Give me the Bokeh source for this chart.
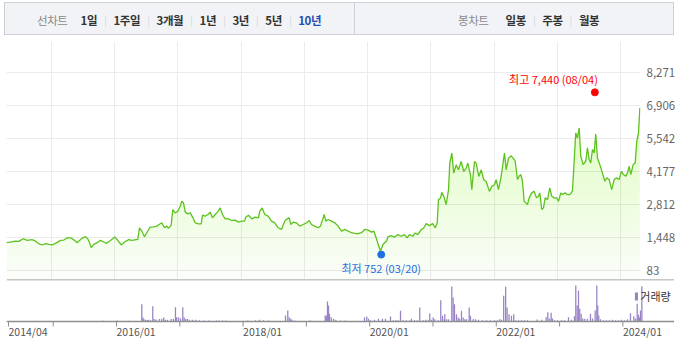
import numpy as np
from bokeh.plotting import figure
from bokeh.models import (Range1d, FixedTicker, Span, Div, Legend, LegendItem, NumeralTickFormatter)
from bokeh.layouts import column
from bokeh.embed import file_html
from bokeh.resources import INLINE
from bokeh.core.properties import value

# ---------------- data (dates are decimal years) ----------------
dates = [
    2014.294, 2014.357, 2014.436, 2014.488, 2014.558, 2014.621, 2014.700, 2014.752, 2014.804, 2014.858,
    2014.910, 2014.962, 2015.016, 2015.068, 2015.147, 2015.199, 2015.253, 2015.316, 2015.368, 2015.411,
    2015.452, 2015.490, 2015.542, 2015.578, 2015.610, 2015.632, 2015.673, 2015.727, 2015.779, 2015.831,
    2015.874, 2015.926, 2016.005, 2016.052, 2016.106, 2016.158, 2016.226,
    2016.273, 2016.368, 2016.395, 2016.431, 2016.474, 2016.510, 2016.564, 2016.616, 2016.668, 2016.706,
    2016.747, 2016.790, 2016.826, 2016.853, 2016.896, 2016.921, 2016.959, 2017.000, 2017.038, 2017.063,
    2017.090, 2017.117, 2017.158, 2017.196, 2017.232, 2017.275, 2017.327, 2017.370, 2017.390, 2017.433,
    2017.474, 2017.512, 2017.548, 2017.591, 2017.632, 2017.670, 2017.706, 2017.749, 2017.801, 2017.852,
    2017.906, 2017.959, 2018.011, 2018.054, 2018.074, 2018.117, 2018.169, 2018.223, 2018.275,
    2018.295, 2018.333, 2018.374, 2018.428, 2018.480, 2018.532, 2018.586, 2018.638, 2018.690, 2018.728,
    2018.760, 2018.785, 2018.823, 2018.875, 2018.927, 2018.981, 2019.033, 2019.076, 2019.112, 2019.164,
    2019.218, 2019.254, 2019.297, 2019.313, 2019.338, 2019.376, 2019.428, 2019.480, 2019.534, 2019.586,
    2019.638, 2019.692, 2019.744, 2019.796, 2019.850, 2019.902, 2019.954, 2020.008, 2020.060, 2020.096,
    2020.128, 2020.166, 2020.202, 2020.245, 2020.297,
    2020.318, 2020.371, 2020.422, 2020.476, 2020.529, 2020.581, 2020.623, 2020.660, 2020.712, 2020.750,
    2020.791, 2020.845, 2020.886, 2020.924, 2020.976, 2021.028, 2021.066, 2021.098, 2021.118, 2021.150,
    2021.171, 2021.202, 2021.240, 2021.277, 2021.297, 2021.329, 2021.360, 2021.398, 2021.434, 2021.477,
    2021.518, 2021.556, 2021.581, 2021.624, 2021.645, 2021.687, 2021.714, 2021.755, 2021.793, 2021.834,
    2021.872, 2021.924, 2021.961, 2022.003, 2022.030, 2022.066, 2022.109, 2022.134, 2022.161, 2022.188,
    2022.224, 2022.267, 2022.319,
    2022.330, 2022.367, 2022.393, 2022.419, 2022.445, 2022.472, 2022.498, 2022.524, 2022.551, 2022.592,
    2022.630, 2022.667, 2022.698, 2022.719, 2022.750, 2022.777, 2022.804, 2022.841, 2022.877, 2022.908,
    2022.946, 2022.983, 2023.014, 2023.051, 2023.077, 2023.120, 2023.156, 2023.193, 2023.235, 2023.262,
    2023.287, 2023.314, 2023.341, 2023.366, 2023.404, 2023.445, 2023.472, 2023.499, 2023.524, 2023.551,
    2023.578, 2023.603, 2023.630, 2023.667, 2023.709, 2023.746, 2023.777, 2023.815, 2023.856, 2023.894,
    2023.930, 2023.973, 2024.009, 2024.041, 2024.078, 2024.104, 2024.131, 2024.156, 2024.194, 2024.226,
    2024.251, 2024.278, 2024.300,
]
prices = [
    1243, 1270, 1311, 1298, 1407, 1339, 1366, 1311, 1202, 1148,
    1202, 1175, 1148, 1216, 1339, 1352, 1448, 1434, 1339, 1243,
    1339, 1434, 1489, 1407, 1216, 1038, 1175, 1243, 1339, 1270,
    1216, 1311, 1475, 1339, 1148, 1270, 1366,
    1339, 1380, 1858, 1721, 1489, 1653, 1885, 1898, 1926, 1994,
    2062, 1858, 1926, 1830, 1967, 2608, 2472, 2540, 2745, 2949,
    2881, 2513, 2431, 2472, 2308, 2062, 2021, 2021, 2376, 2335,
    2404, 2499, 2267, 2404, 2513, 2677, 2404, 2226, 2226, 2158,
    2172, 2090, 2131, 2131, 2294, 2376, 2226, 2294, 2267,
    2540, 2677, 2404, 2335, 2131, 2062, 1858, 1789, 2131, 2226,
    2267, 1994, 2090, 2062, 1926, 1994, 2062, 2158, 1994, 1926,
    1858, 1926, 2267, 2404, 2131, 2199, 2131, 2062, 1926, 1721,
    1789, 1721, 1653, 1626, 1612, 1653, 1789, 1762, 1680, 1721,
    1489, 1175, 902, 1175, 1311,
    1480, 1535, 1467, 1576, 1508, 1576, 1439, 1576, 1508, 1645,
    1576, 1782, 1850, 2028, 1946, 2028, 1850, 2056, 3015, 3083,
    3316, 3152, 2809, 3426, 4522, 4933, 4111, 4453, 4248, 4590,
    4179, 4316, 4522, 4042, 3426, 4590, 4522, 3974, 4248, 3837,
    3768, 3357, 3563, 3631, 3837, 3426, 3974, 4453, 4933, 4248,
    4727, 4823, 4659,
    4600, 3845, 3982, 4051, 3776, 2953, 2884, 2815, 3090, 3296,
    3365, 3090, 3159, 3296, 2609, 2678, 3090, 3021, 3502, 3159,
    3090, 3090, 2953, 3296, 3227, 3296, 3227, 3227, 3365, 4600,
    5767, 5561, 5973, 4806, 4463, 4600, 5149, 4669, 4532, 5081,
    4943, 5726, 4737, 4463, 4120, 3776, 3914, 3845, 3433, 3845,
    3914, 3845, 4188, 4051, 3982, 4120, 4394, 4051, 4463, 4532,
    5424, 5767, 6797,
]

vol_dates = [
    2015.788, 2016.011, 2016.186, 2016.400, 2016.416, 2016.431, 2016.458, 2016.485, 2016.510, 2016.537,
    2016.573, 2016.595, 2016.627, 2016.679, 2016.716, 2016.747, 2016.774, 2016.806, 2016.864, 2016.900,
    2016.932, 2016.948, 2016.979, 2017.011, 2017.047, 2017.069, 2017.095, 2017.122, 2017.158, 2017.201,
    2017.253, 2017.306, 2017.379, 2017.458, 2017.580, 2017.622, 2017.675, 2017.727, 2018.074, 2018.196,
    2018.259, 2018.322, 2018.401, 2018.670, 2018.706, 2018.728, 2018.754, 2018.769, 2018.812, 2019.060,
    2019.297, 2019.318, 2019.333, 2019.349, 2019.365, 2019.392, 2019.428, 2019.464, 2019.539, 2019.618,
    2019.918, 2019.954, 2019.981, 2020.013, 2020.076, 2020.139, 2020.202, 2020.250, 2020.329, 2020.371,
    2020.412, 2020.450, 2020.487, 2020.529, 2020.581, 2020.634, 2020.660, 2020.708, 2020.750, 2020.791,
    2020.845, 2020.886, 2020.924, 2020.949, 2020.976, 2021.003, 2021.028, 2021.082, 2021.123, 2021.150,
    2021.177, 2021.186, 2021.213, 2021.245, 2021.297, 2021.319, 2021.340, 2021.371, 2021.398, 2021.419,
    2021.450, 2021.477, 2021.502, 2021.529, 2021.572, 2021.592, 2021.635, 2021.671, 2021.719, 2021.782,
    2021.845, 2021.908, 2021.971, 2022.019, 2022.055, 2022.082, 2022.117, 2022.148, 2022.171, 2022.202,
    2022.240, 2022.276, 2022.303, 2022.351, 2022.398, 2022.445, 2022.493, 2022.646, 2022.719, 2022.788,
    2022.814, 2022.841, 2022.867, 2022.888, 2022.920, 2022.968, 2023.030, 2023.077, 2023.141, 2023.188,
    2023.235, 2023.256, 2023.278, 2023.299, 2023.319, 2023.341, 2023.366, 2023.398, 2023.441, 2023.488,
    2023.520, 2023.562, 2023.588, 2023.603, 2023.619, 2023.646, 2023.693, 2023.741, 2023.788, 2023.835,
    2023.883, 2023.930, 2023.978, 2024.025, 2024.073, 2024.120, 2024.172, 2024.199, 2024.226, 2024.246,
    2024.262, 2024.278, 2024.300,
]
vol_values = [
    70, 100, 80, 1730, 430, 250, 170, 150, 170, 120,
    1530, 250, 200, 250, 280, 400, 170, 170, 250, 250,
    1430, 430, 430, 300, 1430, 430, 250, 250, 170, 170,
    170, 130, 100, 100, 100, 100, 100, 100, 100, 130,
    170, 130, 100, 600, 1100, 430, 270, 170, 100, 100,
    600, 600, 2000, 1600, 770, 430, 270, 170, 100, 100,
    430, 500, 270, 130, 170, 270, 270, 270, 500, 130,
    130, 130, 1070, 130, 130, 130, 270, 130, 130, 1400,
    130, 170, 130, 800, 170, 400, 230, 130, 2130, 570,
    230, 730, 230, 230, 3500, 2400, 1730, 730, 400, 270,
    1070, 400, 230, 230, 1400, 570, 230, 230, 170, 130,
    130, 130, 130, 130, 230, 170, 2570, 3470, 1400, 730,
    570, 730, 130, 130, 130, 130, 130, 200, 170, 430,
    930, 300, 870, 300, 130, 130, 130, 130, 430, 170,
    530, 3600, 1600, 3100, 1270, 770, 300, 270, 270, 770,
    300, 1100, 3600, 1600, 600, 230, 130, 130, 130, 170,
    130, 130, 170, 130, 230, 830, 530, 300, 1770, 670,
    400, 1100, 3530,
]

high_date, high_price, high_md = 2023.589, 7440, "08/04"
low_date, low_price, low_md = 2020.214, 752, "03/20"

y_ticks = [83, 1448, 2812, 4177, 5542, 6906, 8271]
grid_years = [2015, 2016, 2017, 2018, 2019, 2020, 2021, 2022, 2023, 2024, 2025]
x_label_years = [2016, 2018, 2020, 2022, 2024]
x_label_texts = ["2016/01", "2018/01", "2020/01", "2022/01", "2024/01"]
first_label = "2014/04"

line_periods = ["1일", "1주일", "3개월", "1년", "3년", "5년", "10년"]
selected_period = "10년"
candle_periods = ["일봉", "주봉", "월봉"]

FONT = "Noto Sans CJK KR"
LEFT = 4          # left offset of the whole chart block
W = 670           # content width

# ---------------- top menu bar ----------------
sep = '<span style="color:#d3d5da;margin:0 7px;font-size:10px;">|</span>'
def item(lab):
    col = "#1f4fb4" if lab == selected_period else "#333"
    return f'<span style="color:{col};font-weight:bold;">{lab}</span>'
left = '<span style="color:#8a8a8a;margin-right:13px;">선차트</span>' + sep.join(item(l) for l in line_periods)
right = '<span style="color:#8a8a8a;margin-right:17px;">봉차트</span>' + sep.join(item(l) for l in candle_periods)
bar_html = (
    f'<div style="display:flex;margin:2px 0 0 {LEFT}px;width:{W}px;height:33px;box-sizing:border-box;'
    f'border:1px solid #cdd0d6;background:#f2f3f6;font-family:\'{FONT}\';font-size:11.5px;letter-spacing:-0.4px;">'
    f'<div style="display:flex;align-items:center;width:350px;box-sizing:border-box;border-right:1px solid #cdd0d6;padding:4px 0 0 32px;">{left}</div>'
    f'<div style="display:flex;align-items:center;flex:1;box-sizing:border-box;padding:4px 0 0 103px;">{right}</div>'
    '</div>'
)
bar = Div(text=bar_html, width=LEFT + W, height=35, margin=(0, 0, 0, 0))

# ---------------- main price chart ----------------
x0, x1 = dates[0], dates[-1] + 0.01
y_lo, y_hi = -275, 9537
p = figure(frame_width=634, frame_height=238, x_range=Range1d(x0, x1), y_range=Range1d(y_lo, y_hi),
           output_backend="svg", toolbar_location=None, x_axis_location=None, y_axis_location="right",
           min_border_left=LEFT + 2, min_border_right=34, min_border_top=6, min_border_bottom=0)
p.outline_line_color = None
p.yaxis.ticker = FixedTicker(ticks=y_ticks)
p.yaxis.formatter = NumeralTickFormatter(format="0,0")
p.yaxis.axis_line_color = None
p.yaxis.major_tick_line_color = None
p.yaxis.minor_tick_line_color = None
p.yaxis.major_label_standoff = 0
p.yaxis.major_label_text_font = FONT
p.yaxis.major_label_text_font_size = "11.5px"
p.yaxis.major_label_text_color = "#666666"
p.ygrid.ticker = FixedTicker(ticks=y_ticks)
p.xgrid.ticker = FixedTicker(ticks=grid_years)
p.grid.grid_line_color = "#ebebeb"

pr = np.array(prices, dtype=float)
fill = "#6fd22e"
p.varea(x=dates, y1=y_lo, y2=pr, fill_color=fill, fill_alpha=0.035)
for lv in np.linspace(83, 7000, 30):
    p.varea(x=dates, y1=lv, y2=np.maximum(pr, lv), fill_color=fill, fill_alpha=0.0095)
p.line(dates, prices, line_color="#5cc31c", line_width=1.3)

p.scatter([high_date], [high_price], size=7, color="#ff0000")
p.scatter([low_date], [low_price], size=7, color="#1e6fe3")
p.text([high_date], [high_price], text=[f"최고 {high_price:,} ({high_md})"], text_align="right",
       text_baseline="bottom", x_offset=3, y_offset=-5, text_color="#ff0000",
       text_font=value(FONT), text_font_size="11px")
p.text([low_date], [low_price], text=[f"최저 {low_price:,} ({low_md})"], text_align="center",
       text_baseline="top", y_offset=5, text_color="#1e6fe3",
       text_font=value(FONT), text_font_size="11px")

# ---------------- volume chart (frame also holds the date axis strip) ----------------
ppy = 634 / (x1 - x0)
vx0 = x0 - 2 / ppy
vx1 = vx0 + W / ppy
vmax = 4200
vmin = -2000
pv = figure(frame_width=W, frame_height=62, x_range=Range1d(vx0, vx1), y_range=Range1d(vmin, vmax),
            output_backend="svg", toolbar_location=None, y_axis_location=None, x_axis_location=None,
            min_border_left=LEFT, min_border_right=0, min_border_top=0, min_border_bottom=0)
pv.outline_line_color = None
pv.grid.visible = False
r = pv.vbar(x=vol_dates, top=vol_values, bottom=0, width=0.02, fill_color="#9883c6", line_color=None)
pv.add_layout(Span(location=vmax, dimension="width", line_color="#8e8e8e", line_width=1.5))
pv.add_layout(Span(location=0, dimension="width", line_color="#8e8e8e", line_width=1.5))

tick_x = [dates[0]] + grid_years
pv.segment(x0=tick_x, y0=[0] * len(tick_x), x1=tick_x, y1=[-500] * len(tick_x),
           line_color="#8e8e8e", line_width=1)
pv.text(x=[dates[0]] + x_label_years, y=[-950] * (1 + len(x_label_years)),
        text=[first_label] + x_label_texts, text_align="left", text_baseline="middle",
        text_font=value(FONT), text_font_size="10.5px", text_color="#555555")

leg = Legend(items=[LegendItem(label="거래량", renderers=[r])], location=(633, 37),
             background_fill_alpha=0, border_line_color=None, label_text_font=FONT,
             label_text_font_size="11px", label_text_color="#333333", glyph_width=4, glyph_height=10,
             label_standoff=2, padding=0, margin=0, label_height=10)
pv.add_layout(leg)

layout = column(bar, p, pv, spacing=0)
open("out.html", "w").write(file_html(layout, INLINE))
